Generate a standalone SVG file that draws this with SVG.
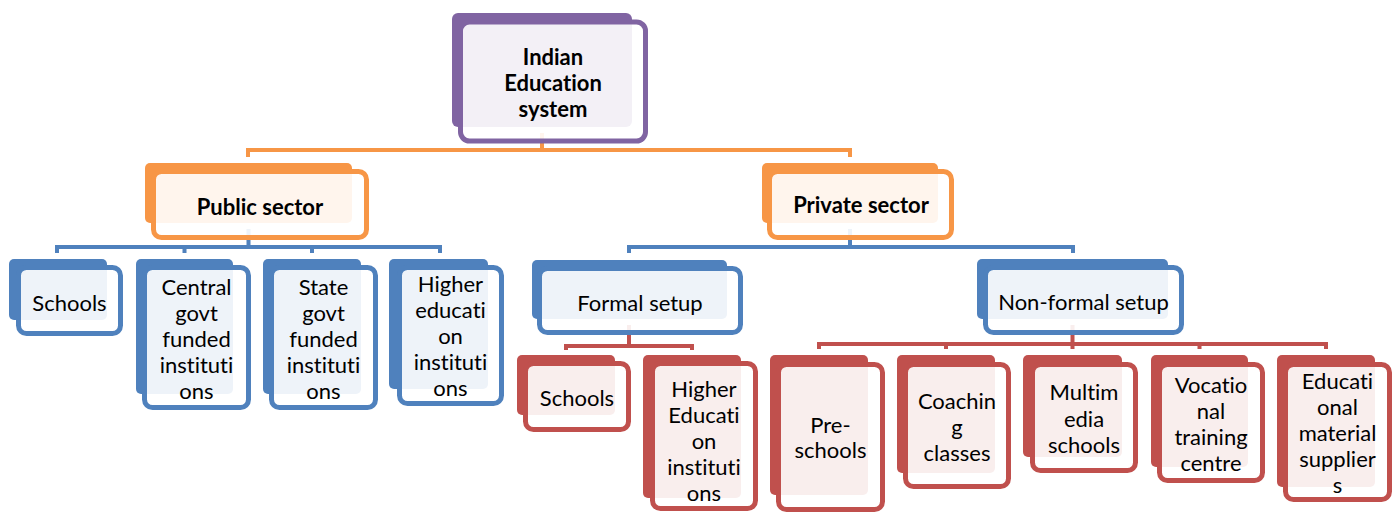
<svg xmlns="http://www.w3.org/2000/svg" width="1399" height="513" viewBox="0 0 1399 513">
<style>
text{font-family:Lato,"Liberation Sans",sans-serif;font-size:22px;fill:#000;text-anchor:middle;font-variant-ligatures:none;font-feature-settings:"liga" 0,"clig" 0,"dlig" 0,"calt" 0}
.b{font-weight:bold}
.back{stroke:none}
.front{fill:#fff;fill-opacity:0.9;stroke-width:5}
.pu .back{fill:#8064A2}.pu .front{stroke:#8064A2}
.or .back{fill:#F79646}.or .front{stroke:#F79646}
.bl .back{fill:#4F81BD}.bl .front{stroke:#4F81BD}
.rd .back{fill:#C0504D}.rd .front{stroke:#C0504D}
.c{fill:none;stroke-width:4}
</style>
<g id="connectors">
<path class="c" stroke="#F79646" d="M542,133V150M248,157V150H850V157"/>
<path class="c" stroke="#4F81BD" d="M248.5,229V247M57,253V247H440V253M184.5,247V253M312,247V253"/>
<path class="c" stroke="#4F81BD" d="M850,229V247M629,253V247H1073V253"/>
<path class="c" stroke="#C0504D" d="M629,325V346M566,350V346H692V350"/>
<path class="c" stroke="#C0504D" d="M1072.5,325V349M819,349V344H1326V349M946,344V349M1199.5,344V349"/>
</g>
<g id="n-root" class="pu">
<rect class="back" x="452" y="13" width="180" height="114" rx="6"/>
<rect class="front" x="460.5" y="22" width="185" height="119" rx="9"/>
<text class="b" x="553" y="65">Indian</text>
<text class="b" x="553" y="91">Education</text>
<text class="b" x="553" y="117">system</text>
</g>
<g id="n-public" class="or">
<rect class="back" x="145" y="163" width="207" height="60" rx="5"/>
<rect class="front" x="153.5" y="171.5" width="213" height="66" rx="8"/>
<text class="b" x="260" y="215">Public sector</text>
</g>
<g id="n-private" class="or">
<rect class="back" x="762" y="163" width="176" height="60" rx="5"/>
<rect class="front" x="769.5" y="171.5" width="182" height="66" rx="8"/>
<text class="b" x="861" y="213">Private sector</text>
</g>
<g id="n-schools" class="bl">
<rect class="back" x="9" y="259" width="98" height="61" rx="5"/>
<rect class="front" x="18.5" y="267.5" width="102" height="66" rx="8"/>
<text x="69.5" y="311">Schools</text>
</g>
<g id="n-central" class="bl">
<rect class="back" x="136" y="259" width="97" height="135" rx="5"/>
<rect class="front" x="144.5" y="267.5" width="104" height="140" rx="8"/>
<text x="196.5" y="295">Central</text>
<text x="196.5" y="321">govt</text>
<text x="196.5" y="347">funded</text>
<text x="196.5" y="373">instituti</text>
<text x="196.5" y="399">ons</text>
</g>
<g id="n-state" class="bl">
<rect class="back" x="263" y="259" width="98" height="135" rx="5"/>
<rect class="front" x="271.5" y="267.5" width="104" height="140" rx="8"/>
<text x="323.5" y="295">State</text>
<text x="323.5" y="321">govt</text>
<text x="323.5" y="347">funded</text>
<text x="323.5" y="373">instituti</text>
<text x="323.5" y="399">ons</text>
</g>
<g id="n-higher-pub" class="bl">
<rect class="back" x="389" y="259" width="99" height="130" rx="5"/>
<rect class="front" x="399.5" y="267.5" width="102" height="136" rx="8"/>
<text x="450.5" y="292">Higher</text>
<text x="450.5" y="318">educati</text>
<text x="450.5" y="344">on</text>
<text x="450.5" y="370">instituti</text>
<text x="450.5" y="396">ons</text>
</g>
<g id="n-formal" class="bl">
<rect class="back" x="532" y="260" width="195" height="59" rx="5"/>
<rect class="front" x="539.5" y="268.5" width="201" height="64" rx="8"/>
<text x="640" y="311">Formal setup</text>
</g>
<g id="n-nonformal" class="bl">
<rect class="back" x="977" y="259" width="191" height="60" rx="5"/>
<rect class="front" x="985.5" y="267.5" width="196" height="65" rx="8"/>
<text x="1083.5" y="310">Non-formal setup</text>
</g>
<g id="n-schools-f" class="rd">
<rect class="back" x="517" y="355" width="98" height="60" rx="5"/>
<rect class="front" x="525.5" y="363.5" width="103" height="66" rx="8"/>
<text x="577" y="406">Schools</text>
</g>
<g id="n-higher-f" class="rd">
<rect class="back" x="643" y="355" width="98" height="143" rx="5"/>
<rect class="front" x="652.5" y="363.5" width="103" height="145" rx="8"/>
<text x="704" y="397">Higher</text>
<text x="704" y="423">Educati</text>
<text x="704" y="449">on</text>
<text x="704" y="475">instituti</text>
<text x="704" y="501">ons</text>
</g>
<g id="n-pre" class="rd">
<rect class="back" x="770" y="355" width="98" height="140" rx="5"/>
<rect class="front" x="778.5" y="364.5" width="104" height="145" rx="8"/>
<text x="830.5" y="433">Pre-</text>
<text x="830.5" y="458">schools</text>
</g>
<g id="n-coaching" class="rd">
<rect class="back" x="897" y="355" width="98" height="118" rx="5"/>
<rect class="front" x="905.5" y="364.5" width="103" height="122" rx="8"/>
<text x="957" y="409">Coachin</text>
<text x="957" y="435">g</text>
<text x="957" y="461">classes</text>
</g>
<g id="n-multimedia" class="rd">
<rect class="back" x="1023" y="355" width="99" height="102" rx="5"/>
<rect class="front" x="1032.5" y="364.5" width="103" height="106" rx="8"/>
<text x="1084" y="400">Multim</text>
<text x="1084" y="427">edia</text>
<text x="1084" y="453">schools</text>
</g>
<g id="n-vocational" class="rd">
<rect class="back" x="1151" y="355" width="97" height="112" rx="5"/>
<rect class="front" x="1159.5" y="364.5" width="103" height="116" rx="8"/>
<text x="1211" y="393">Vocatio</text>
<text x="1211" y="419">nal</text>
<text x="1211" y="445">training</text>
<text x="1211" y="471">centre</text>
</g>
<g id="n-educational" class="rd">
<rect class="back" x="1277" y="355" width="98" height="132" rx="5"/>
<rect class="front" x="1285.5" y="364.5" width="104" height="135" rx="8"/>
<text x="1337.5" y="389">Educati</text>
<text x="1337.5" y="415">onal</text>
<text x="1337.5" y="441">material</text>
<text x="1337.5" y="467">supplier</text>
<text x="1337.5" y="493">s</text>
</g>
</svg>
